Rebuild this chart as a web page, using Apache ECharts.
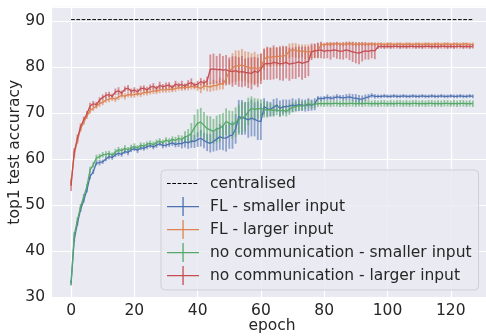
<!DOCTYPE html>
<html>
<head>
    <meta charset="UTF-8">
    <title>top1 test accuracy</title>
    <script src="https://cdn.jsdelivr.net/npm/echarts@6/dist/echarts.min.js"></script>
</head>
<body style="margin:0;background:#fff">
<div id="main" style="width: 486px; height: 336px"></div>
<script>
    // values, one per epoch (0..127)
    var centralised = 90.3;
    var lastEpoch = 127;

    var flSmall = [33.0, 42.5, 46.0, 49.0, 51.0, 53.2, 56.2, 57.2, 59.1, 59.2,
        59.4, 60.0, 60.5, 60.3, 60.9, 61.2, 61.0, 61.6, 61.4, 62.0,
        62.2, 61.9, 62.4, 62.3, 62.7, 62.9, 62.6, 63.0, 63.3, 62.9,
        63.0, 63.2, 63.5, 63.1, 63.4, 63.3, 63.7, 63.5, 63.9, 63.8,
        64.2, 64.5, 64.0, 63.6, 63.4, 63.8, 64.3, 64.8, 64.6, 64.5,
        65.0, 65.2, 66.5, 69.2, 69.0, 68.8, 68.5, 68.9, 68.6, 68.3,
        68.1, 71.4, 70.9, 70.8, 71.2, 71.7, 71.0, 71.3, 71.4, 71.5,
        71.7, 71.6, 71.8, 71.7, 71.6, 71.8, 71.7, 71.9, 73.2, 73.1,
        73.2, 73.4, 73.2, 73.3, 73.5, 73.4, 73.3, 73.4, 73.5, 73.3,
        73.2, 73.0, 73.0, 73.3, 73.5, 73.8, 73.6, 73.6, 73.6, 73.7,
        73.6, 73.6, 73.7, 73.6, 73.6, 73.7, 73.6, 73.6, 73.7, 73.6,
        73.6, 73.7, 73.6, 73.6, 73.7, 73.6, 73.6, 73.7, 73.6, 73.6,
        73.7, 73.6, 73.6, 73.7, 73.6, 73.6, 73.7, 73.6];
    var flSmallErr = [0.5, 0.5, 0.5, 0.5, 0.5, 0.5, 0.6, 0.5, 0.5, 0.6,
        0.5, 0.5, 0.6, 0.5, 0.5, 0.6, 0.5, 0.5, 0.6, 0.5,
        0.5, 0.6, 0.5, 0.5, 0.6, 0.5, 0.5, 0.6, 0.5, 0.6,
        0.5, 0.6, 0.7, 0.6, 0.8, 1.0, 1.2, 1.3, 1.5, 1.4,
        1.6, 1.8, 1.7, 1.9, 2.0, 2.2, 2.5, 2.8, 2.7, 2.9,
        2.8, 3.0, 3.2, 3.6, 3.8, 3.5, 3.9, 4.0, 3.7, 4.2,
        4.0, 1.8, 1.7, 1.6, 1.8, 1.5, 1.7, 1.6, 1.5, 1.4,
        1.5, 1.3, 1.4, 1.2, 1.3, 1.4, 1.2, 1.3, 0.5, 0.5,
        0.5, 0.6, 0.5, 0.5, 0.6, 0.5, 0.6, 0.7, 0.7, 0.8,
        0.9, 0.9, 0.8, 0.7, 0.6, 0.5, 0.5, 0.4, 0.4, 0.4,
        0.4, 0.4, 0.4, 0.4, 0.4, 0.4, 0.4, 0.4, 0.4, 0.4,
        0.4, 0.4, 0.4, 0.4, 0.4, 0.4, 0.4, 0.4, 0.4, 0.4,
        0.4, 0.4, 0.4, 0.4, 0.4, 0.4, 0.4, 0.4];

    var flLarge = [55.0, 61.0, 64.0, 66.5, 68.0, 69.3, 70.5, 71.0, 71.5, 72.0,
        72.3, 72.8, 73.0, 73.2, 73.0, 73.5, 73.8, 73.6, 74.0, 73.9,
        74.0, 74.2, 74.1, 74.5, 74.4, 74.6, 74.8, 74.7, 75.0, 75.0,
        75.0, 75.2, 75.1, 75.3, 75.5, 75.4, 75.6, 75.5, 75.8, 75.7,
        75.6, 75.3, 75.9, 75.8, 75.6, 76.0, 75.9, 76.4, 76.2, 77.5,
        79.0, 79.8, 80.2, 80.3, 80.4, 80.2, 79.9, 79.7, 79.8, 79.6,
        80.0, 81.6, 82.2, 82.1, 82.3, 82.2, 82.4, 82.3, 82.6, 83.5,
        83.7, 83.6, 83.4, 83.5, 83.3, 83.4, 83.3, 83.5, 83.6, 84.8,
        84.9, 85.0, 84.9, 85.0, 85.1, 85.0, 84.9, 85.0, 85.1, 85.0,
        84.9, 85.0, 85.0, 84.9, 85.0, 85.0, 84.9, 85.0, 85.0, 84.9,
        85.0, 85.0, 84.9, 85.0, 85.0, 84.9, 85.0, 85.0, 84.9, 85.0,
        85.0, 84.9, 85.0, 85.0, 84.9, 85.0, 85.0, 84.9, 85.0, 85.0,
        84.9, 85.0, 85.0, 84.9, 85.0, 85.0, 84.9, 84.9];
    var flLargeErr = [0.8, 0.7, 0.7, 0.6, 0.6, 0.6, 0.7, 0.6, 0.6, 0.7,
        0.6, 0.6, 0.7, 0.6, 0.6, 0.7, 0.6, 0.7, 0.6, 0.6,
        0.7, 0.6, 0.6, 0.7, 0.6, 0.6, 0.7, 0.6, 0.7, 0.6,
        0.6, 0.7, 0.6, 0.7, 0.6, 0.6, 0.7, 0.6, 0.7, 0.6,
        0.8, 1.0, 0.9, 1.1, 1.0, 1.2, 1.0, 1.3, 1.1, 1.6,
        2.6, 3.2, 3.4, 3.3, 3.5, 3.2, 3.4, 3.3, 3.5, 3.2,
        3.0, 2.2, 2.0, 2.1, 1.9, 2.0, 2.2, 2.0, 1.9, 1.6,
        1.5, 1.6, 1.5, 1.4, 1.6, 1.5, 1.4, 1.5, 1.6, 0.5,
        0.4, 0.4, 0.4, 0.4, 0.4, 0.4, 0.4, 0.4, 0.4, 0.4,
        0.4, 0.4, 0.4, 0.4, 0.4, 0.4, 0.4, 0.4, 0.4, 0.4,
        0.4, 0.4, 0.4, 0.4, 0.4, 0.4, 0.4, 0.4, 0.4, 0.4,
        0.4, 0.4, 0.4, 0.4, 0.4, 0.4, 0.4, 0.4, 0.4, 0.4,
        0.4, 0.4, 0.4, 0.4, 0.4, 0.4, 0.4, 0.4];

    var ncSmall = [33.0, 43.5, 46.7, 49.6, 51.8, 54.0, 57.6, 58.7, 60.2, 60.5,
        60.9, 61.0, 61.2, 60.8, 61.5, 62.0, 61.8, 62.3, 62.0, 62.5,
        62.7, 62.4, 63.0, 62.8, 63.2, 63.4, 63.1, 63.6, 63.9, 63.5,
        64.1, 63.8, 64.3, 64.0, 64.5, 64.2, 64.8, 65.0, 65.6, 66.8,
        67.8, 68.0, 67.3, 66.6, 66.3, 66.0, 66.5, 66.7, 67.2, 68.1,
        67.8, 67.4, 68.0, 68.5, 69.0, 69.2, 70.3, 71.0, 70.8, 70.9,
        71.0, 70.8, 70.6, 70.7, 70.5, 70.7, 70.4, 70.6, 70.3, 70.8,
        71.2, 71.4, 71.6, 71.5, 71.7, 72.0, 71.8, 71.9, 72.0, 72.1,
        72.0, 72.1, 72.0, 72.1, 72.1, 72.0, 72.1, 72.0, 72.1, 72.1,
        72.0, 72.1, 72.0, 72.1, 72.1, 72.0, 72.1, 72.0, 72.1, 72.1,
        72.0, 72.1, 72.0, 72.1, 72.1, 72.0, 72.1, 72.0, 72.1, 72.1,
        72.0, 72.1, 72.0, 72.1, 72.1, 72.0, 72.1, 72.0, 72.1, 72.1,
        72.0, 72.1, 72.0, 72.1, 72.1, 72.0, 72.1, 72.0];
    var ncSmallErr = [0.5, 0.6, 0.6, 0.6, 0.6, 0.6, 0.7, 0.6, 0.7, 0.6,
        0.6, 0.7, 0.6, 0.6, 0.7, 0.6, 0.6, 0.7, 0.6, 0.6,
        0.7, 0.6, 0.6, 0.7, 0.6, 0.6, 0.7, 0.6, 0.6, 0.7,
        0.6, 0.7, 0.6, 0.8, 0.7, 0.9, 1.2, 1.5, 2.2, 2.8,
        3.0, 3.1, 2.9, 2.8, 3.0, 2.7, 2.9, 3.0, 2.8, 2.9,
        2.7, 3.0, 3.2, 3.3, 3.4, 3.2, 3.0, 2.6, 2.4, 2.2,
        2.0, 1.8, 1.6, 1.4, 1.3, 1.2, 1.3, 1.2, 1.1, 1.2,
        1.1, 1.0, 1.1, 1.0, 0.9, 1.0, 0.9, 0.8, 0.7, 0.7,
        0.7, 0.7, 0.7, 0.7, 0.7, 0.7, 0.7, 0.7, 0.7, 0.7,
        0.7, 0.7, 0.7, 0.7, 0.7, 0.7, 0.7, 0.7, 0.7, 0.7,
        0.7, 0.7, 0.7, 0.7, 0.7, 0.7, 0.7, 0.7, 0.7, 0.7,
        0.7, 0.7, 0.7, 0.7, 0.7, 0.7, 0.7, 0.7, 0.7, 0.7,
        0.7, 0.7, 0.7, 0.7, 0.7, 0.7, 0.7, 0.7];

    var ncLarge = [54.2, 61.5, 64.5, 67.0, 68.5, 69.8, 71.5, 72.0, 71.8, 72.8,
        73.4, 73.8, 74.0, 73.6, 74.6, 74.8, 74.3, 75.2, 75.4, 74.7,
        75.0, 74.6, 75.3, 75.4, 75.0, 75.6, 75.8, 75.3, 76.0, 75.7,
        75.9, 76.1, 75.5, 76.3, 76.0, 76.2, 75.8, 76.4, 76.6, 76.0,
        76.3, 76.8, 76.5, 77.0, 79.5, 79.6, 79.4, 79.5, 79.3, 79.4,
        79.1, 79.0, 79.2, 78.9, 79.0, 78.8, 78.7, 78.6, 79.1, 78.8,
        79.6, 80.6, 80.8, 80.7, 81.0, 80.9, 80.7, 80.8, 81.0, 80.6,
        80.8, 80.9, 81.1, 80.8, 81.0, 81.2, 83.3, 83.5, 83.6, 83.7,
        83.4, 83.6, 83.5, 83.7, 83.6, 83.4, 83.5, 83.7, 83.5, 83.3,
        83.1, 83.0, 83.3, 83.5, 83.4, 83.6, 83.5, 84.4, 84.5, 84.4,
        84.5, 84.4, 84.5, 84.5, 84.4, 84.5, 84.4, 84.5, 84.5, 84.4,
        84.5, 84.4, 84.5, 84.5, 84.4, 84.5, 84.4, 84.5, 84.5, 84.4,
        84.5, 84.4, 84.5, 84.5, 84.4, 84.5, 84.4, 84.5];
    var ncLargeErr = [1.2, 0.8, 0.8, 0.7, 0.7, 0.6, 0.7, 0.6, 0.6, 0.6,
        0.6, 0.7, 0.6, 0.6, 0.7, 0.8, 0.6, 0.6, 0.7, 0.6,
        0.6, 0.7, 0.6, 0.6, 0.7, 0.6, 0.7, 0.6, 0.8, 0.6,
        0.7, 0.6, 0.6, 0.7, 0.6, 0.8, 0.6, 0.7, 0.9, 0.6,
        0.7, 0.8, 0.7, 0.9, 3.2, 3.3, 3.0, 3.4, 3.1, 3.2,
        3.0, 3.3, 3.1, 3.2, 3.4, 3.0, 3.3, 3.5, 3.1, 3.2,
        3.3, 3.4, 3.6, 3.5, 3.7, 3.4, 3.6, 3.8, 3.5, 3.6,
        3.4, 3.5, 3.3, 3.6, 3.4, 3.2, 1.8, 1.6, 1.7, 1.8,
        1.6, 1.7, 1.9, 1.6, 1.8, 1.7, 1.9, 1.8, 2.0, 2.2,
        2.3, 2.4, 2.1, 1.9, 1.8, 1.7, 1.8, 0.5, 0.5, 0.5,
        0.5, 0.5, 0.5, 0.5, 0.5, 0.5, 0.5, 0.5, 0.5, 0.5,
        0.5, 0.5, 0.5, 0.5, 0.5, 0.5, 0.5, 0.5, 0.5, 0.5,
        0.5, 0.5, 0.5, 0.5, 0.5, 0.5, 0.5, 0.5];

    var names = ['FL - smaller input', 'FL - larger input',
        'no communication - smaller input', 'no communication - larger input'];
    var colors = ['#4c72b0', '#dd8452', '#55a868', '#c44e52'];
    var means = [flSmall, flLarge, ncSmall, ncLarge];
    var errs = [flSmallErr, flLargeErr, ncSmallErr, ncLargeErr];

    var font = 'DejaVu Sans';
    var txt = '#262626';
    var crossIcon = 'path://M0,9 L32,9 L32,10.3 L0,10.3 Z M15.4,0 L16.7,0 L16.7,19 L15.4,19 Z';
    var dashIcon = 'path://M0,9 h3.7 v1 h-3.7 Z M5.3,9 h3.7 v1 h-3.7 Z M10.6,9 h3.7 v1 h-3.7 Z M15.9,9 h3.7 v1 h-3.7 Z M21.2,9 h3.7 v1 h-3.7 Z M26.5,9 h3.7 v1 h-3.7 Z M32,0 L32,19';

    function errRenderer(color) {
        return function (params, api) {
            var p1 = api.coord([api.value(0), api.value(1)]);
            var p2 = api.coord([api.value(0), api.value(2)]);
            return {
                type: 'line',
                shape: {x1: p1[0], y1: p1[1], x2: p2[0], y2: p2[1]},
                style: {stroke: color, lineWidth: 1.8, opacity: 0.6}
            };
        };
    }

    var series = [{
        name: 'centralised',
        type: 'line',
        color: '#000',
        data: [[0, centralised], [lastEpoch, centralised]],
        showSymbol: false,
        lineStyle: {color: '#000', width: 1, type: [3.7, 1.6]}
    }];
    var legendData = [{name: 'centralised', icon: dashIcon, itemStyle: {color: '#000', borderWidth: 0}}];

    for (var s = 0; s < 4; s++) {
        var line = [], bars = [];
        for (var i = 0; i < means[s].length; i++) {
            line.push([i, means[s][i]]);
            bars.push([i, means[s][i] - errs[s][i], means[s][i] + errs[s][i]]);
        }
        series.push({
            name: names[s] + ' err',
            type: 'custom',
            renderItem: errRenderer(colors[s]),
            data: bars,
            encode: {x: 0, y: [1, 2]},
            silent: true
        });
        series.push({
            name: names[s],
            type: 'line',
            color: colors[s],
            data: line,
            showSymbol: false,
            lineStyle: {color: colors[s], width: 1.3}
        });
        legendData.push({name: names[s], icon: crossIcon, itemStyle: {color: colors[s], borderWidth: 0}});
    }

    var myChart = echarts.init(document.getElementById('main'));
    myChart.setOption({
        animation: false,
        textStyle: {fontFamily: font},
        grid: {
            left: 51, top: 6.75, width: 442, height: 291,
            containLabel: false, outerBoundsMode: 'none',
            backgroundColor: '#eaeaf2', show: true, borderWidth: 0
        },
        xAxis: {
            type: 'value', min: -6.35, max: 133.35, splitNumber: 7,
            axisLine: {show: false}, axisTick: {show: false},
            axisLabel: {showMinLabel: false, showMaxLabel: false, margin: 5, fontSize: 15.5, color: txt, fontFamily: font},
            splitLine: {lineStyle: {color: '#fff', width: 1.2}},
            name: 'epoch', nameLocation: 'middle', nameGap: 20, nameMoveOverlap: false,
            nameTextStyle: {fontSize: 15.5, color: txt, fontFamily: font}
        },
        yAxis: {
            type: 'value', min: 29.8, max: 93.1, splitNumber: 6,
            axisLine: {show: false}, axisTick: {show: false},
            axisLabel: {showMinLabel: false, showMaxLabel: false, margin: 6, fontSize: 15.5, color: txt, fontFamily: font},
            splitLine: {lineStyle: {color: '#fff', width: 1.2}},
            name: 'top1 test accuracy', nameLocation: 'middle', nameGap: 28, nameMoveOverlap: false,
            nameTextStyle: {fontSize: 15.5, color: txt, fontFamily: font}
        },
        legend: {
            data: legendData,
            orient: 'vertical',
            left: 161, top: 170,
            itemWidth: 32, itemHeight: 19, itemGap: 4,
            padding: [4, 7, 5, 6],
            backgroundColor: 'rgba(234,234,242,0.8)',
            borderColor: '#cfcfd6', borderWidth: 1, borderRadius: 4,
            textStyle: {fontSize: 15.5, color: txt, fontFamily: font, padding: [0, 0, 0, 6]},
            selectedMode: false
        },
        series: series
    });
</script>
</body>
</html>
